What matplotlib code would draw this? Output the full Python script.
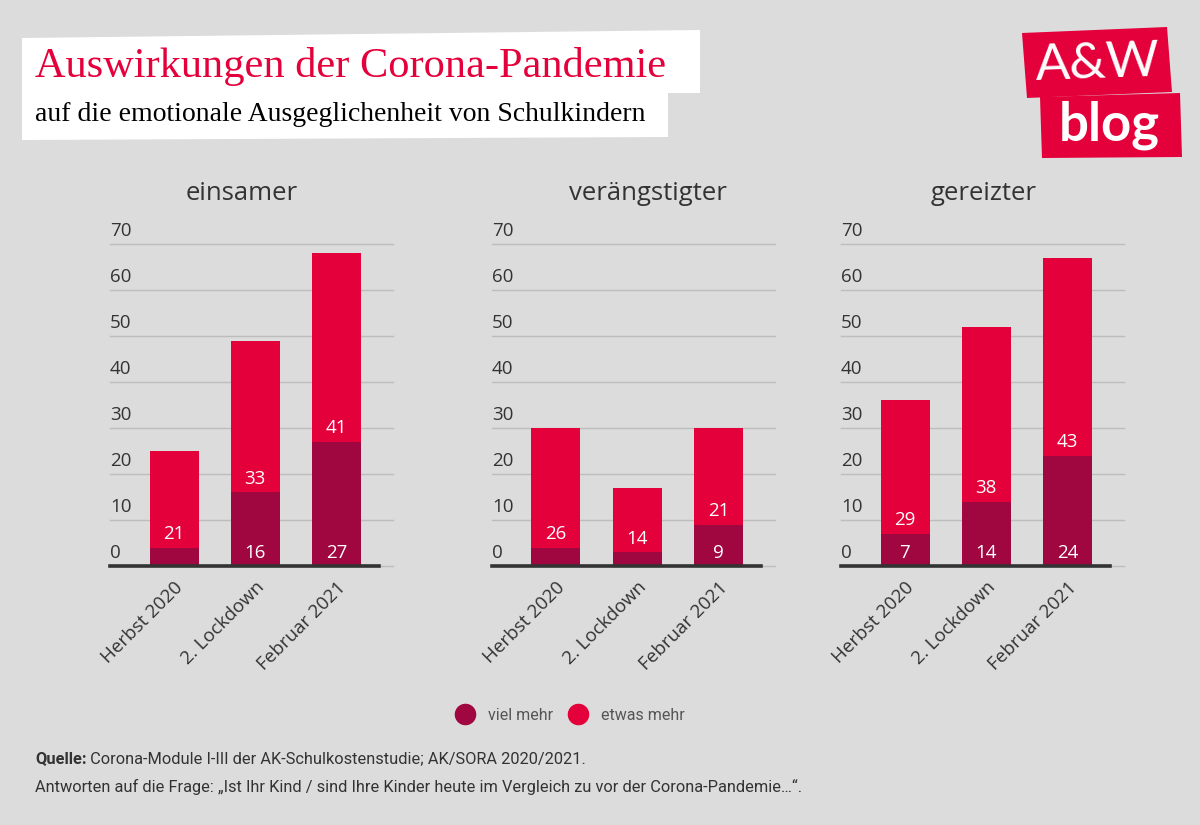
import matplotlib
matplotlib.use("Agg")
import matplotlib.pyplot as plt
from matplotlib.patches import Polygon
from matplotlib.lines import Line2D
from matplotlib.transforms import blended_transform_factory, ScaledTranslation

# data
categories = ["Herbst 2020", "2. Lockdown", "Februar 2021"]
panel_titles = ["einsamer", "verängstigter", "gereizter"]
viel_mehr = [[4, 16, 27], [4, 3, 9], [7, 14, 24]]
etwas_mehr = [[21, 33, 41], [26, 14, 21], [29, 38, 43]]
y_ticks = [0, 10, 20, 30, 40, 50, 60, 70]
series_names = ["viel mehr", "etwas mehr"]

BG = "#DCDCDC"
RED = "#E4003A"
DARK = "#A0063F"
TXT = "#333333"
NARROW = "Roboto"

W, H = 1200, 825
fig = plt.figure(figsize=(W / 100, H / 100), dpi=100, facecolor=BG)

# full-figure layer for boxes, logo, footnote
bg = fig.add_axes([0, 0, 1, 1], zorder=0)
bg.set_xlim(0, W)
bg.set_ylim(H, 0)
bg.axis("off")

# white title boxes
bg.add_patch(Polygon([(22, 38), (700, 30), (700, 93), (22, 93)], closed=True, fc="white", ec="none"))
bg.add_patch(Polygon([(22, 92), (668, 92), (668, 137), (22, 140)], closed=True, fc="white", ec="none"))
bg.text(35, 77, "Auswirkungen der Corona-Pandemie", color=RED, fontsize=30.5,
        family="Liberation Serif", va="baseline", ha="left")
bg.text(35, 121, "auf die emotionale Ausgeglichenheit von Schulkindern", color="black", fontsize=20,
        family="Liberation Serif", va="baseline", ha="left")

# logo
bg.add_patch(Polygon([(1022, 33), (1167, 27), (1172, 92), (1027, 98)], closed=True, fc=RED, ec="none"))
bg.add_patch(Polygon([(1040, 97), (1180, 93), (1182, 157), (1042, 158)], closed=True, fc=RED, ec="none"))
bg.text(1098, 80, "A&W", color="white", fontsize=37, family="Lato", ha="center", va="baseline", rotation=2)
bg.text(1109, 141, "blog", color="white", fontsize=38, family="Lato", fontweight="bold",
        ha="center", va="baseline")

# panels
lefts = [110, 492, 841]
title_x = [0.466, 0.55, 0.505]
ax_w = 283
bottom_px = 566
px_per_unit = 4.6
ymax = 72
xlim = (-64 / 81.25, 2 + 56.5 / 81.25)
bar_w = 49 / 81.25

for i, name in enumerate(panel_titles):
    top_px = bottom_px - ymax * px_per_unit
    ax = fig.add_axes([lefts[i] / W, 1 - bottom_px / H, ax_w / W, (bottom_px - top_px) / H], zorder=1)
    ax.set_facecolor("none")
    ax.set_xlim(*xlim)
    ax.set_ylim(0, ymax)
    for s in ax.spines.values():
        s.set_visible(False)

    x = list(range(len(categories)))
    ax.bar(x, viel_mehr[i], width=bar_w, color=DARK, zorder=2)
    ax.bar(x, etwas_mehr[i], bottom=viel_mehr[i], width=bar_w, color=RED, zorder=2)

    for t in y_ticks:
        ax.axhline(t, color="#BDBDBD", lw=1, zorder=1, clip_on=False)
    ax.axhline(0, xmin=0, xmax=(379 - 110) / ax_w, color=TXT, lw=2.6, zorder=3, clip_on=False)

    tr = blended_transform_factory(ax.transAxes, ax.transData) + ScaledTranslation(0, 0.08, fig.dpi_scale_trans)
    for t in y_ticks:
        ax.text(0, t, str(t), transform=tr, ha="left", va="baseline", fontsize=13.5,
                color=TXT, family="Open Sans")
    ax.set_yticks([])

    for xi, (v, e) in enumerate(zip(viel_mehr[i], etwas_mehr[i])):
        if v >= 5:
            ax.annotate(str(v), (xi, 0), xytext=(0, 6), textcoords="offset points",
                        ha="center", va="baseline", color="white", fontsize=13.5, family="Open Sans", zorder=4)
        ax.annotate(str(e), (xi, v), xytext=(0, 6), textcoords="offset points",
                    ha="center", va="baseline", color="white", fontsize=13.5, family="Open Sans", zorder=4)

    ax.set_xticks(x)
    ax.set_xticklabels(categories, rotation=45, ha="right", va="top", rotation_mode="anchor",
                       fontsize=13.5, color=TXT, family="Open Sans")
    ax.tick_params(axis="x", length=0, pad=9)

    ax.set_title(name, x=title_x[i], y=1.0, pad=25, fontsize=18.5, color=TXT, family="Open Sans")

# legend
handles = [Line2D([], [], ls="none", marker="o", markersize=14.5, mfc=c, mec=c) for c in (DARK, RED)]
fig.legend(handles, series_names, loc="center", bbox_to_anchor=(571 / W, 1 - 715 / H), ncol=2,
           frameon=False, handletextpad=0.9, columnspacing=1.1, handlelength=1.0,
           prop={"family": NARROW, "size": 11.5}, labelcolor="#555555")

# footnote
q = bg.text(35, 763, "Quelle:", fontsize=11.8, fontweight="bold", color=TXT, family=NARROW, va="baseline")
bg.annotate(" Corona-Module I-III der AK-Schulkostenstudie; AK/SORA 2020/2021.", xy=(1, 0), xycoords=q,
            fontsize=11.8, color=TXT, family=NARROW, va="bottom")
bg.text(35, 792, "Antworten auf die Frage: \u201eIst Ihr Kind / sind Ihre Kinder heute im Vergleich zu vor der Corona-Pandemie\u2026\u201c.",
        fontsize=11.8, color=TXT, family=NARROW, va="baseline")

fig.savefig("out.png", dpi=100, facecolor=BG)
